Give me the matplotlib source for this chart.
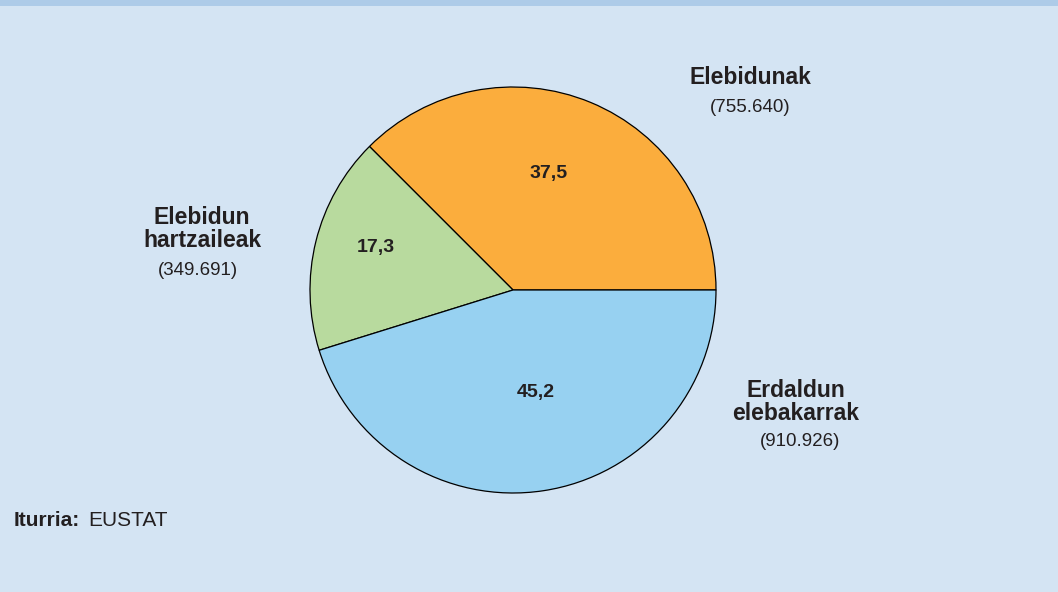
import matplotlib.pyplot as plt
import matplotlib.patches as mpatches

# datuak
categories = ['Elebidunak', 'Elebidun\nhartzaileak', 'Erdaldun\nelebakarrak']
percentages = [37.5, 17.3, 45.2]
counts = ['(755.640)', '(349.691)', '(910.926)']
colors = ['#fbad3d', '#b8da9e', '#97d1f1']

W, H = 1058, 592
bg = '#d4e4f3'
txt = '#231f20'
plt.rcParams['font.family'] = ['Liberation Sans', 'DejaVu Sans']

fig = plt.figure(figsize=(W / 100, H / 100), dpi=100, facecolor=bg)

# goiko banda
fig.patches.append(mpatches.Rectangle((0, 1 - 6 / H), 1, 6 / H, transform=fig.transFigure,
                                      facecolor='#adcbe8', edgecolor='none'))

cx, cy, r = 513, 290, 203
ax = fig.add_axes([(cx - r) / W, (H - cy - r) / H, 2 * r / W, 2 * r / H])
ax.set_facecolor(bg)
ax.pie(percentages, colors=colors, startangle=0, counterclock=True, radius=1,
       wedgeprops=dict(edgecolor='black', linewidth=0.9))
ax.set_xlim(-1, 1)
ax.set_ylim(-1, 1)
ax.set_aspect('equal')
ax.axis('off')

# portzentajeak
pct_pos = [(549, 174), (376, 248), (536, 392)]
for p, (x, y) in zip(percentages, pct_pos):
    fig.text(x / W, 1 - y / H, f'{p:.1f}'.replace('.', ','), ha='center', va='center',
             fontsize=14, fontweight='bold', color=txt)

# etiketak
lab_pos = [(750, 78), (202, 229), (796, 402)]
cnt_pos = [(750, 108), (198, 270), (800, 442)]
for c, n, (lx, ly), (nx, ny) in zip(categories, counts, lab_pos, cnt_pos):
    fig.text(lx / W, 1 - ly / H, c, ha='center', va='center', fontsize=16.5,
             fontweight='bold', color=txt, linespacing=0.98)
    fig.text(nx / W, 1 - ny / H, n, ha='center', va='center', fontsize=13.5, color=txt)

fig.text(14 / W, 1 - 521 / H, 'Iturria:', ha='left', va='center', fontsize=15,
         fontweight='bold', color=txt)
fig.text(88 / W, 1 - 521 / H, 'EUSTAT', ha='left', va='center', fontsize=15, color=txt)

fig.savefig('out.png', dpi=100, facecolor=bg)
